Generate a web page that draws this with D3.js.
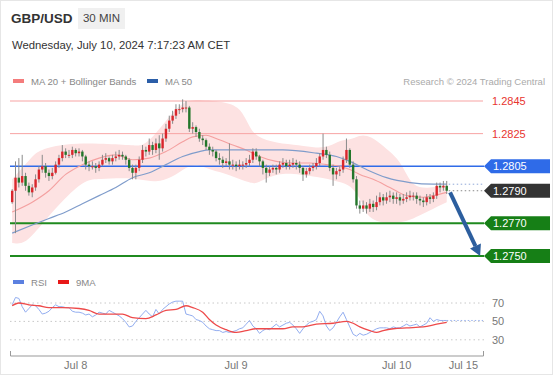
<!DOCTYPE html>
<html>
<head>
<meta charset="utf-8">
<script src="https://cdn.jsdelivr.net/npm/d3@7"></script>
<style>
  body { margin: 0; background: #fff; font-family: Arial, "Liberation Sans", sans-serif; }
</style>
</head>
<body>
<svg id="chart" width="553" height="375"></svg>
<script>
// ---- data (30 min candles, GBP/USD) ----
var firstOpen = 1.2783;
var closes = [
  1.2790, 1.2798, 1.2795, 1.2799, 1.2793, 1.2789, 1.2792, 1.2797, 1.2803, 1.2805,
  1.2801, 1.2799, 1.2801, 1.2806, 1.2810, 1.2814, 1.2812, 1.2812, 1.2815, 1.2813,
  1.2814, 1.2811, 1.2806, 1.2805, 1.2805, 1.2804, 1.2806, 1.2809, 1.2810, 1.2808,
  1.2810, 1.2811, 1.2812, 1.2811, 1.2809, 1.2804, 1.2801, 1.2804, 1.2809, 1.2815,
  1.2814, 1.2818, 1.2815, 1.2819, 1.2816, 1.2822, 1.2828, 1.2833, 1.2836, 1.2840,
  1.2840, 1.2841, 1.2841, 1.2828, 1.2829, 1.2826, 1.2822, 1.2821, 1.2817, 1.2815,
  1.2814, 1.2810, 1.2809, 1.2807, 1.2808, 1.2806, 1.2806, 1.2805, 1.2806, 1.2806,
  1.2807, 1.2809, 1.2814, 1.2811, 1.2808, 1.2804, 1.2801, 1.2803, 1.2804, 1.2803,
  1.2806, 1.2807, 1.2805, 1.2806, 1.2807, 1.2806, 1.2804, 1.2800, 1.2802, 1.2804,
  1.2805, 1.2807, 1.2811, 1.2815, 1.2812, 1.2804, 1.2800, 1.2802, 1.2803, 1.2809,
  1.2815, 1.2806, 1.2797, 1.2781, 1.2779, 1.2781, 1.2779, 1.2782, 1.2780, 1.2783,
  1.2786, 1.2784, 1.2786, 1.2787, 1.2785, 1.2786, 1.2784, 1.2785, 1.2786, 1.2787,
  1.2787, 1.2785, 1.2784, 1.2783, 1.2786, 1.2785, 1.2787, 1.2793, 1.2792, 1.2793,
  1.2790
];
var highs = [
  1.2791, 1.2808, 1.2810, 1.2812, 1.2801, 1.2795, 1.2794, 1.2800, 1.2805, 1.2812,
  1.2807, 1.2803, 1.2804, 1.2808, 1.2812, 1.2818, 1.2816, 1.2815, 1.2817, 1.2816,
  1.2816, 1.2815, 1.2812, 1.2808, 1.2808, 1.2807, 1.2808, 1.2812, 1.2813, 1.2811,
  1.2812, 1.2814, 1.2815, 1.2814, 1.2812, 1.2810, 1.2806, 1.2806, 1.2811, 1.2818,
  1.2817, 1.2822, 1.2820, 1.2822, 1.2824, 1.2825, 1.2831, 1.2836, 1.2839, 1.2843,
  1.2843, 1.2846, 1.2845, 1.2842, 1.2832, 1.2830, 1.2828, 1.2824, 1.2822, 1.2819,
  1.2817, 1.2815, 1.2813, 1.2811, 1.2810, 1.2819, 1.2809, 1.2808, 1.2809, 1.2808,
  1.2810, 1.2812, 1.2816, 1.2816, 1.2812, 1.2809, 1.2806, 1.2805, 1.2806, 1.2806,
  1.2808, 1.2810, 1.2809, 1.2809, 1.2810, 1.2809, 1.2808, 1.2805, 1.2804, 1.2806,
  1.2807, 1.2810, 1.2813, 1.2825, 1.2817, 1.2814, 1.2806, 1.2804, 1.2805, 1.2811,
  1.2822, 1.2816, 1.2808, 1.2799, 1.2784, 1.2784, 1.2783, 1.2785, 1.2784, 1.2787,
  1.2789, 1.2788, 1.2789, 1.2790, 1.2789, 1.2789, 1.2788, 1.2788, 1.2789, 1.2790,
  1.2789, 1.2789, 1.2787, 1.2786, 1.2788, 1.2788, 1.2789, 1.2795, 1.2795, 1.2796,
  1.2796
];
var lows = [
  1.2782, 1.2764, 1.2792, 1.2793, 1.2790, 1.2787, 1.2786, 1.2790, 1.2795, 1.2801,
  1.2798, 1.2796, 1.2797, 1.2800, 1.2804, 1.2808, 1.2810, 1.2810, 1.2810, 1.2811,
  1.2811, 1.2808, 1.2803, 1.2802, 1.2803, 1.2801, 1.2802, 1.2805, 1.2807, 1.2806,
  1.2806, 1.2808, 1.2809, 1.2809, 1.2806, 1.2802, 1.2797, 1.2797, 1.2802, 1.2807,
  1.2811, 1.2812, 1.2812, 1.2813, 1.2809, 1.2814, 1.2820, 1.2826, 1.2831, 1.2834,
  1.2837, 1.2838, 1.2838, 1.2826, 1.2825, 1.2823, 1.2820, 1.2818, 1.2815, 1.2812,
  1.2811, 1.2808, 1.2806, 1.2804, 1.2805, 1.2803, 1.2803, 1.2802, 1.2803, 1.2803,
  1.2804, 1.2805, 1.2807, 1.2809, 1.2805, 1.2800, 1.2795, 1.2799, 1.2801, 1.2800,
  1.2801, 1.2804, 1.2803, 1.2803, 1.2804, 1.2803, 1.2801, 1.2796, 1.2798, 1.2800,
  1.2802, 1.2803, 1.2805, 1.2809, 1.2810, 1.2802, 1.2793, 1.2797, 1.2799, 1.2801,
  1.2807, 1.2804, 1.2795, 1.2779, 1.2776, 1.2777, 1.2776, 1.2777, 1.2777, 1.2778,
  1.2781, 1.2781, 1.2782, 1.2783, 1.2782, 1.2782, 1.2781, 1.2782, 1.2783, 1.2784,
  1.2784, 1.2782, 1.2781, 1.2780, 1.2781, 1.2782, 1.2783, 1.2785, 1.2789, 1.2790,
  1.2788
];

// smooth indicator lines: [candle index, value]
var ma20Pts = [[0,1.2777],[6,1.2783],[11,1.2790],[16,1.2800],[21,1.2806],[26,1.2810],[31,1.2812],
  [36,1.2809],[41,1.2810],[46,1.2814],[51,1.2820],[54,1.2823],[58,1.2824],[61,1.2822],[66,1.2818],
  [70,1.2815],[74,1.2811],[79,1.2808],[84,1.2807],[89,1.2807],[94,1.2806],[98,1.2805],[101,1.2803],
  [104,1.2800],[108,1.2797],[113,1.2792],[118,1.2787],[123,1.2786],[126,1.2787],[130,1.2789]];
var ma50Pts = [[0,1.2764],[6,1.2769],[11,1.2773],[16,1.2777],[21,1.2782],[26,1.2787],[31,1.2792],
  [36,1.2798],[41,1.2801],[46,1.2806],[51,1.2811],[56,1.2814],[59,1.2815],[66,1.2815],[74,1.2815],
  [81,1.2815],[91,1.2813],[97,1.2811],[101,1.2808],[106,1.2803],[112,1.2798],[119,1.2795],
  [126,1.2794],[130,1.2794]];
var bbUpperPts = [[0,1.2797],[6,1.2811],[8,1.2815],[16,1.2819],[26,1.2819],[36,1.2818],[39,1.2817],
  [43,1.2825],[46,1.2833],[51,1.2845],[56,1.2846],[66,1.2844],[69,1.2838],[71,1.2829],[73,1.2823],
  [79,1.2819],[86,1.2818],[91,1.2816],[95,1.2817],[98,1.2821],[101,1.2821],[104,1.2824],[106,1.2824],
  [109,1.2821],[113,1.2814],[116,1.2808],[118,1.2800],[120,1.2793],[124,1.2791],[130,1.2794]];
var bbLowerPts = [[0,1.2758],[4,1.2757],[9,1.2770],[16,1.2786],[22,1.2797],[26,1.2797],[33,1.2798],
  [38,1.2797],[43,1.2795],[48,1.2798],[52,1.2805],[56,1.2806],[59,1.2803],[63,1.2801],[67,1.2798],
  [71,1.2795],[73,1.2794],[76,1.2798],[81,1.2801],[86,1.2800],[93,1.2798],[99,1.2795],[102,1.2792],
  [105,1.2782],[106,1.2775],[109,1.2771],[113,1.2770],[118,1.2771],[122,1.2775],[126,1.2779],[130,1.2783]];

var rsi = [
  68, 76, 75, 66, 60, 64, 68, 67, 63, 58,
  59, 61, 65, 68, 66, 66, 65, 65, 61, 60,
  60, 59, 57, 58, 55, 57, 60, 59, 58, 62,
  60, 58, 56, 53, 49, 44, 45, 50, 54, 58,
  62, 58, 55, 63, 58, 63, 66, 69, 71, 72,
  72, 72, 58, 57, 56, 52, 51, 49, 45, 42,
  41, 40, 40, 38, 39, 38, 39, 40, 42, 43,
  47, 51, 45, 42, 37, 40, 42, 41, 44, 47,
  44, 46, 48, 49, 46, 42, 37, 42, 46, 49,
  50, 52, 61, 56, 45, 40, 43, 49, 55, 60,
  52, 44, 36, 34, 37, 35, 36, 38, 40, 42,
  43, 43, 43, 42, 44, 43, 43, 45, 47, 45,
  46, 47, 44, 46, 48, 54, 50, 52, 51, 51,
  51
];
var rsiMaPts = [[0,67],[2,70],[5,68],[8,67],[11,65],[15,65],[20,64],[23,62],[26,58],[30,58],[33,58],
  [36,54],[40,53],[43,57],[46,62],[49,63],[52,67],[54,65],[57,60],[59,52],[61,46],[64,41],[67,38],
  [70,40],[73,42],[77,42],[81,42],[84,44],[87,44],[91,47],[96,48],[100,50],[102,48],[104,44],
  [107,40],[109,38],[111,40],[114,42],[118,43],[123,44],[127,47],[130,49]];

var resistLevels = [1.2845, 1.2825];
var pivotLevel = 1.2805;
var lastPrice = 1.2790;
var supportLevels = [1.2770, 1.2750];
var tickIdx = [19, 67, 115, 135];
var tickLabels = ["Jul 8", "Jul 9", "Jul 10", "Jul 15"];
var rsiTicks = [70, 50, 30];

var candles = closes.map(function(c, i) {
  return { i: i, o: i == 0 ? firstOpen : closes[i - 1], c: c, h: highs[i], l: lows[i] };
});

// ---- drawing ----
var svg = d3.select("#chart");
var font = "Arial, 'Liberation Sans', sans-serif";

svg.append("rect").attr("x", 0.5).attr("y", 0.5).attr("width", 552).attr("height", 374)
  .style("fill", "#fff").style("stroke", "#e6e6e6");

// header
svg.append("text").attr("x", 11).attr("y", 23).text("GBP/USD")
  .style("font-family", font).style("font-size", "13.5px").style("font-weight", "bold").style("fill", "#333");
svg.append("rect").attr("x", 78).attr("y", 8).attr("width", 47).attr("height", 21).style("fill", "#f0f0f0");
svg.append("text").attr("x", 101.5).attr("y", 22).attr("text-anchor", "middle").text("30 MIN")
  .style("font-family", font).style("font-size", "11.5px").style("fill", "#444");
svg.append("text").attr("x", 12).attr("y", 49).text("Wednesday, July 10, 2024 7:17:23 AM CET")
  .style("font-family", font).style("font-size", "11.3px").style("fill", "#333");

// legend
function legendItem(x, y, color, label, g) {
  g.append("rect").attr("x", x).attr("y", y - 2).attr("width", 11).attr("height", 4).style("fill", color);
  g.append("text").attr("x", x + 18).attr("y", y + 3.5).text(label)
    .style("font-family", font).style("font-size", "9.6px").style("fill", "#888");
}
var leg = svg.append("g");
legendItem(13, 81, "#f47c7c", "MA 20 + Bollinger Bands", leg);
legendItem(147, 81, "#2b5ea8", "MA 50", leg);
svg.append("text").attr("x", 545).attr("y", 84.5).attr("text-anchor", "end").text("Research \u00a9 2024 Trading Central")
  .style("font-family", font).style("font-size", "9.5px").style("fill", "#aaa");

var x = d3.scaleLinear().domain([-0.5, 141]).range([10.5, 483.5]);
var y = d3.scaleLinear().domain([1.2845, 1.2750]).range([101, 256]);
var plot = svg.append("g");

// bollinger band blob
var smooth = d3.line().x(function(d) { return x(d[0]); }).y(function(d) { return y(d[1]); }).curve(d3.curveBasis);
var upperPath = smooth(bbUpperPts);
var lowerPath = smooth(bbLowerPts.slice().reverse());
plot.append("path").attr("d", upperPath + "L" + lowerPath.slice(1) + "Z").style("fill", "#fde2e2");

// level lines
resistLevels.forEach(function(p) {
  plot.append("line").attr("x1", 10).attr("x2", 483).attr("y1", y(p)).attr("y2", y(p))
    .style("stroke", "#f7a3a3").style("stroke-width", 1);
});
plot.append("line").attr("x1", 10).attr("x2", 484).attr("y1", y(pivotLevel)).attr("y2", y(pivotLevel))
  .style("stroke", "#2f6be8").style("stroke-width", 1.5);
supportLevels.forEach(function(p) {
  plot.append("line").attr("x1", 10).attr("x2", 484).attr("y1", y(p)).attr("y2", y(p))
    .style("stroke", "#1f8a1f").style("stroke-width", 2);
});

// moving averages
var mono = d3.line().x(function(d) { return x(d[0]); }).y(function(d) { return y(d[1]); }).curve(d3.curveMonotoneX);
plot.append("path").attr("d", mono(ma20Pts)).style("fill", "none").style("stroke", "#f4a0a0").style("stroke-width", 1.1);
plot.append("path").attr("d", mono(ma50Pts)).style("fill", "none").style("stroke", "#7f9ccb").style("stroke-width", 1.2);

// dotted extensions to the right
var lastMa50 = ma50Pts[ma50Pts.length - 1][1];
plot.append("line").attr("x1", x(130) + 2).attr("x2", 483).attr("y1", y(lastMa50)).attr("y2", y(lastMa50))
  .style("stroke", "#8fa8d8").style("stroke-dasharray", "1.5,2.5");
plot.append("line").attr("x1", x(130) + 2).attr("x2", 483).attr("y1", y(lastPrice)).attr("y2", y(lastPrice))
  .style("stroke", "#888").style("stroke-dasharray", "1.5,2.5");

// candles
var cg = plot.selectAll(".candle").data(candles).enter().append("g").attr("class", "candle");
cg.append("line")
  .attr("x1", function(d) { return x(d.i); }).attr("x2", function(d) { return x(d.i); })
  .attr("y1", function(d) { return y(d.h); }).attr("y2", function(d) { return y(d.l); })
  .style("stroke", "#8a8a8a").style("stroke-width", 1);
cg.append("rect")
  .attr("x", function(d) { return x(d.i) - 1.2; })
  .attr("width", 2.4)
  .attr("y", function(d) { return y(Math.max(d.o, d.c)); })
  .attr("height", function(d) { return Math.max(1, Math.abs(y(d.o) - y(d.c))); })
  .style("fill", function(d) { return d.c >= d.o ? "#d9262c" : "#23762a"; });

// forecast arrow
var ax1 = x(131), ay1 = y(lastPrice - 0.0001), ax2 = x(140), ay2 = y(supportLevels[1]);
var dx = ax2 - ax1, dy = ay2 - ay1, len = Math.sqrt(dx * dx + dy * dy);
var ux = dx / len, uy = dy / len;
var hb = 11, hw = 6;
plot.append("line").attr("x1", ax1).attr("y1", ay1)
  .attr("x2", ax2 - ux * hb).attr("y2", ay2 - uy * hb)
  .style("stroke", "#2c5e9e").style("stroke-width", 4);
plot.append("path").attr("d", "M" + ax2 + "," + ay2 +
    "L" + (ax2 - ux * hb - uy * hw) + "," + (ay2 - uy * hb + ux * hw) +
    "L" + (ax2 - ux * hb + uy * hw) + "," + (ay2 - uy * hb - ux * hw) + "Z")
  .style("fill", "#2c5e9e");

// right price labels
resistLevels.forEach(function(p) {
  svg.append("text").attr("x", 492).attr("y", y(p) + 4).text(p.toFixed(4))
    .style("font-family", font).style("font-size", "11px").style("fill", "#e8352f");
});
function tag(p, fill) {
  var yc = y(p);
  svg.append("path").attr("d", "M484," + yc + "L491," + (yc - 7) + "L550," + (yc - 7) + "L550," + (yc + 7) + "L491," + (yc + 7) + "Z")
    .style("fill", fill);
  svg.append("text").attr("x", 493).attr("y", yc + 4).text(p.toFixed(4))
    .style("font-family", font).style("font-size", "11px").style("fill", "#fff");
}
tag(pivotLevel, "#2f6be8");
tag(lastPrice, "#333");
supportLevels.forEach(function(p) { tag(p, "#167f16"); });

// ---- RSI panel ----
var ry = d3.scaleLinear().domain([30, 70]).range([339.8, 303]);
var rleg = svg.append("g");
legendItem(13, 282, "#5b80e0", "RSI", rleg);
legendItem(58, 282, "#e81818", "9MA", rleg);

rsiTicks.forEach(function(t) {
  svg.append("line").attr("x1", 10).attr("x2", 485).attr("y1", ry(t)).attr("y2", ry(t))
    .style("stroke", "#c8c8c8").style("stroke-dasharray", "1.5,3");
  svg.append("text").attr("x", 492).attr("y", ry(t) + 4).text(t)
    .style("font-family", font).style("font-size", "11px").style("fill", "#777");
});

var rsiLine = d3.line().x(function(d, i) { return x(i); }).y(function(d) { return ry(d); });
svg.append("path").attr("d", rsiLine(rsi)).style("fill", "none").style("stroke", "#92adf0").style("stroke-width", 1);
svg.append("line").attr("x1", x(130)).attr("x2", 483).attr("y1", ry(rsi[rsi.length - 1])).attr("y2", ry(rsi[rsi.length - 1]))
  .style("stroke", "#9bb3ee").style("stroke-dasharray", "1.5,2");
var rmaLine = d3.line().x(function(d) { return x(d[0]); }).y(function(d) { return ry(d[1]); }).curve(d3.curveMonotoneX);
svg.append("path").attr("d", rmaLine(rsiMaPts)).style("fill", "none").style("stroke", "#ee4a4a").style("stroke-width", 1.3);

// x axis
var axisY = 356;
svg.append("path").attr("d", "M10.5," + (axisY - 5) + "V" + axisY + "H483.5V" + (axisY - 5))
  .style("fill", "none").style("stroke", "#999");
tickIdx.forEach(function(t, k) {
  svg.append("text").attr("x", x(t)).attr("y", axisY + 13).attr("text-anchor", "middle").text(tickLabels[k])
    .style("font-family", font).style("font-size", "11px").style("fill", "#777");
});
</script>
</body>
</html>
